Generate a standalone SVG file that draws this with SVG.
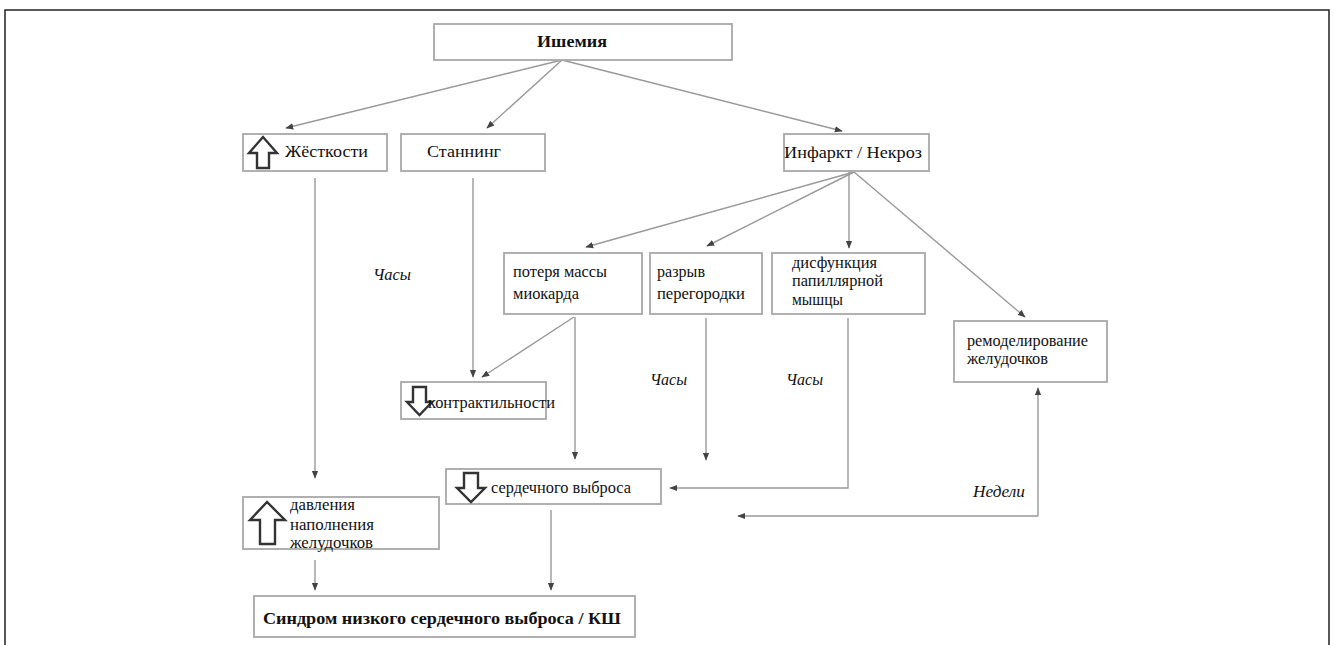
<svg xmlns="http://www.w3.org/2000/svg" width="1335" height="645" viewBox="0 0 1335 645">
<defs>
<style>
.box{fill:#fff;stroke:#a8a8a8;stroke-width:1.8}
.t{font-family:"Liberation Serif","DejaVu Serif",serif;font-size:16px;fill:#111}
.b{font-weight:bold}
.i{font-style:italic}
.c{stroke:#999;stroke-width:1.4;fill:none}
.blk{fill:#fff;stroke:#333;stroke-width:2.4;stroke-linejoin:miter}
</style>
<marker id="ah" viewBox="0 0 10 10" refX="9" refY="5" markerWidth="8" markerHeight="8" orient="auto" markerUnits="userSpaceOnUse">
<path d="M0,1 L10,5 L0,9 z" fill="#444"/>
</marker>
</defs>
<rect x="0" y="0" width="1335" height="645" fill="#fff"/>
<path d="M5,645 V10 H1329 V645" fill="none" stroke="#222" stroke-width="1.5"/>

<g id="connectors">
<path class="c" d="M562,60 L286,128" marker-end="url(#ah)"/>
<path class="c" d="M562,60 L487,128" marker-end="url(#ah)"/>
<path class="c" d="M562,60 L842,131" marker-end="url(#ah)"/>
<path class="c" d="M315,178 V478" marker-end="url(#ah)"/>
<path class="c" d="M473,178 V377" marker-end="url(#ah)"/>
<path class="c" d="M854,172 L586,247" marker-end="url(#ah)"/>
<path class="c" d="M854,172 L707,246" marker-end="url(#ah)"/>
<path class="c" d="M849,172 V248" marker-end="url(#ah)"/>
<path class="c" d="M854,172 L1025,317" marker-end="url(#ah)"/>
<path class="c" d="M574,317 L482,377" marker-end="url(#ah)"/>
<path class="c" d="M575,317 V459" marker-end="url(#ah)"/>
<path class="c" d="M706,318 V460" marker-end="url(#ah)"/>
<path class="c" d="M848,318 V488 H670" marker-end="url(#ah)"/>
<path class="c" d="M1038,516 V388" marker-end="url(#ah)"/>
<path class="c" d="M1038,516 H738" marker-end="url(#ah)"/>
<path class="c" d="M315,560 V590" marker-end="url(#ah)"/>
<path class="c" d="M551,510 V590" marker-end="url(#ah)"/>
</g>

<text class="t i" x="373" y="280" textLength="38" lengthAdjust="spacingAndGlyphs">Часы</text>
<text class="t i" x="650" y="385" textLength="37" lengthAdjust="spacingAndGlyphs">Часы</text>
<text class="t i" x="786" y="385" textLength="37" lengthAdjust="spacingAndGlyphs">Часы</text>
<text class="t i" x="973" y="497" textLength="52" lengthAdjust="spacingAndGlyphs">Недели</text>

<g id="n-ishemia">
<rect class="box" x="434" y="24" width="298" height="36"/>
<text class="t b" x="537" y="47" textLength="70" lengthAdjust="spacingAndGlyphs">Ишемия</text>
</g>
<g id="n-stiff">
<rect class="box" x="243" y="134" width="144" height="37"/>
<path class="blk" d="M263,137 L249,153 L257,153 L257,168 L269,168 L269,153 L277,153 Z"/>
<text class="t" x="285" y="157" textLength="83" lengthAdjust="spacingAndGlyphs">Жёсткости</text>
</g>
<g id="n-stunning">
<rect class="box" x="401" y="134" width="144" height="37"/>
<text class="t" x="427" y="157" textLength="74" lengthAdjust="spacingAndGlyphs">Станнинг</text>
</g>
<g id="n-infarct">
<rect class="box" x="784" y="134" width="145" height="37"/>
<text class="t" x="784" y="158" textLength="138" lengthAdjust="spacingAndGlyphs">Инфаркт / Некроз</text>
</g>
<g id="n-mass">
<rect class="box" x="504" y="253" width="138" height="61"/>
<text class="t" x="513" y="277" textLength="94" lengthAdjust="spacingAndGlyphs">потеря массы</text>
<text class="t" x="513" y="299" textLength="66" lengthAdjust="spacingAndGlyphs">миокарда</text>
</g>
<g id="n-rupture">
<rect class="box" x="650" y="253" width="112" height="61"/>
<text class="t" x="657" y="277" textLength="48" lengthAdjust="spacingAndGlyphs">разрыв</text>
<text class="t" x="657" y="299" textLength="88" lengthAdjust="spacingAndGlyphs">перегородки</text>
</g>
<g id="n-papillary">
<rect class="box" x="772" y="253" width="153" height="61"/>
<text class="t" x="792" y="268" textLength="85" lengthAdjust="spacingAndGlyphs">дисфункция</text>
<text class="t" x="792" y="286" textLength="91" lengthAdjust="spacingAndGlyphs">папиллярной</text>
<text class="t" x="792" y="305" textLength="51" lengthAdjust="spacingAndGlyphs">мышцы</text>
</g>
<g id="n-remodel">
<rect class="box" x="954" y="321" width="153" height="61"/>
<text class="t" x="967" y="346" textLength="121" lengthAdjust="spacingAndGlyphs">ремоделирование</text>
<text class="t" x="967" y="364" textLength="81" lengthAdjust="spacingAndGlyphs">желудочков</text>
</g>
<g id="n-contract">
<rect class="box" x="401" y="382" width="145" height="37"/>
<path class="blk" d="M413,387 L413,402 L407,402 L419.5,415 L432,402 L426,402 L426,387 Z"/>
<text class="t" x="428" y="408" textLength="127" lengthAdjust="spacingAndGlyphs">контрактильности</text>
</g>
<g id="n-output">
<rect class="box" x="446" y="469" width="215" height="35"/>
<path class="blk" d="M464,473 L464,488 L457,488 L471,502 L485,488 L478,488 L478,473 Z"/>
<text class="t" x="491" y="493" textLength="140" lengthAdjust="spacingAndGlyphs">сердечного выброса</text>
</g>
<g id="n-pressure">
<rect class="box" x="243" y="497" width="196" height="52"/>
<path class="blk" d="M267,502 L250,520 L260,520 L260,544 L275,544 L275,520 L285,520 Z"/>
<text class="t" x="290" y="510" textLength="65" lengthAdjust="spacingAndGlyphs">давления</text>
<text class="t" x="290" y="530" textLength="84" lengthAdjust="spacingAndGlyphs">наполнения</text>
<text class="t" x="290" y="548" textLength="83" lengthAdjust="spacingAndGlyphs">желудочков</text>
</g>
<g id="n-syndrome">
<rect class="box" x="254" y="596" width="381" height="41"/>
<text class="t b" x="263" y="624" textLength="358" lengthAdjust="spacingAndGlyphs">Синдром низкого сердечного выброса / КШ</text>
</g>
</svg>
